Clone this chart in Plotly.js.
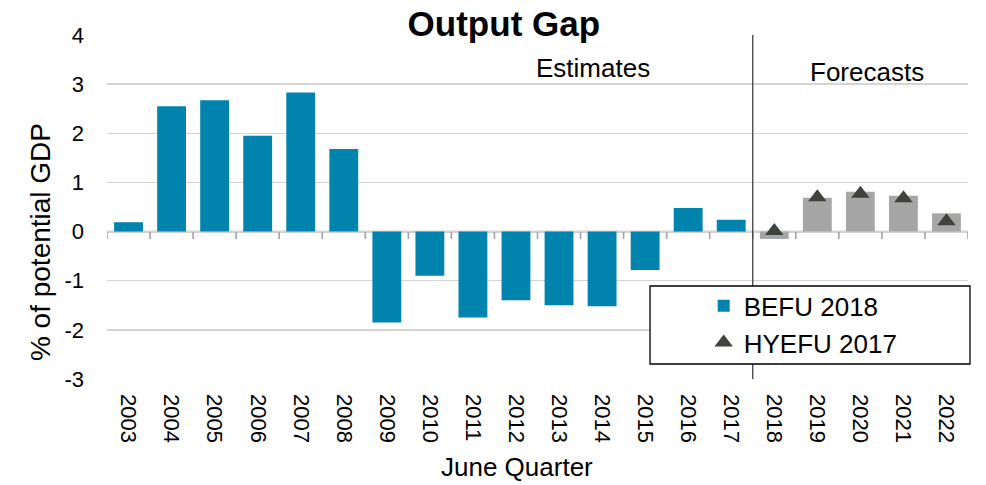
<!DOCTYPE html>
<html>
<head>
<meta charset="utf-8">
<script src="https://cdn.plot.ly/plotly-3.0.1.min.js"></script>
<style>html,body{margin:0;padding:0;background:#fff;}#chart{width:986px;height:485px;}</style>
</head>
<body>
<div id="chart"></div>
<script>
const years = ['2003','2004','2005','2006','2007','2008','2009','2010','2011','2012','2013','2014','2015','2016','2017','2018','2019','2020','2021','2022'];
const befu2018 = [0.19, 2.55, 2.67, 1.95, 2.83, 1.68, -1.85, -0.90, -1.75, -1.40, -1.50, -1.52, -0.78, 0.48, 0.24, -0.15, 0.69, 0.81, 0.73, 0.37];
const hyefuYears = ['2018','2019','2020','2021','2022'];
const hyefu2017 = [0.01, 0.70, 0.77, 0.68, 0.21];
const firstForecastYear = '2018';
const yTickVals = [-3, -2, -1, 0, 1, 2, 3, 4];
const yTickText = ['-3', '-2', '-1', '0', '1', '2', '3', '4'];

const blue = '#0083AD', grey = '#A6A6A6', axisGrey = '#A3A3A3';
const barColors = years.map(y => (+y >= +firstForecastYear ? grey : blue));
const F = 'Liberation Sans, Arial, sans-serif';

const traces = [
  {type:'bar', name:'BEFU 2018', x:years, y:befu2018, marker:{color:barColors, line:{width:0}},
   legendgroup:'a'},
  {type:'scatter', mode:'markers', name:'HYEFU 2017', x:hyefuYears, y:hyefu2017,
   marker:{symbol:'triangle-up', size:16, color:'#3F423D'}, legendgroup:'b'}
];

// category-boundary tick marks hanging below the zero line (one per category boundary)
const boundaryTicks = years.concat(['end']).map((_, i) => ({
  type:'line', xref:'x', yref:'y', x0:i - 0.5, x1:i - 0.5, y0:0, y1:-0.15,
  line:{color:axisGrey, width:1.6}, layer:'below'
}));

const layout = {
  width:986, height:485,
  margin:{l:107, r:18, t:35, b:106},
  paper_bgcolor:'#fff', plot_bgcolor:'#fff',
  font:{family:F, color:'#000', size:22},
  bargap:0.33,
  showlegend:true,
  title:{text:'<b>Output Gap</b>', font:{family:F, size:35, color:'#000'},
         xref:'container', x:0.511, xanchor:'center', yref:'container', y:0.952, yanchor:'middle'},
  xaxis:{type:'category', categoryarray:years, range:[-0.5,19.5], tickangle:90,
         showgrid:false, zeroline:false, showline:false, ticks:'',
         tickfont:{family:F, size:22, color:'#000'}, ticklabelstandoff:14},
  yaxis:{range:[-3,4], tickvals:yTickVals, ticktext:yTickText, showgrid:true, gridcolor:'#D4D4D4', gridwidth:1.5,
         zeroline:false, showline:false, ticks:'',
         tickfont:{family:F, size:22, color:'#000'}, ticklabelstandoff:22},
  legend:{x:0.693, xanchor:'left', y:0.281, yanchor:'top', bgcolor:'rgba(0,0,0,0)', borderwidth:0,
          font:{family:F, size:26, color:'#000'}, traceorder:'grouped', tracegroupgap:0},
  shapes:[
    {type:'rect', xref:'paper', yref:'paper', x0:0.338, x1:0.584, y0:0.98, y1:1.03, fillcolor:'#fff', line:{width:0}, layer:'above'},
    {type:'line', xref:'paper', yref:'y', x0:0, x1:1, y0:0, y1:0, line:{color:axisGrey, width:1.8}, layer:'below'}
  ].concat(boundaryTicks).concat([
    {type:'line', xref:'x', yref:'paper', x0:14.5, x1:14.5, y0:0, y1:1, line:{color:'#404040', width:1.3}, layer:'above'},
    {type:'rect', xref:'paper', yref:'paper', x0:0.6307, x1:1.0023, y0:0.0436, y1:0.2703, fillcolor:'#fff', line:{color:'#000', width:1.3}, layer:'above'}
  ]),
  annotations:[
    {text:'Estimates', xref:'paper', yref:'paper', x:0.5645, y:0.904, xanchor:'center', yanchor:'middle', showarrow:false, font:{family:F, size:26}},
    {text:'Forecasts', xref:'paper', yref:'paper', x:0.8827, y:0.893, xanchor:'center', yanchor:'middle', showarrow:false, font:{family:F, size:26}},
    {text:'June Quarter', xref:'paper', yref:'paper', x:0.476, y:-0.256, xanchor:'center', yanchor:'middle', showarrow:false, font:{family:F, size:26}},
    {text:'% of potential GDP', xref:'paper', yref:'paper', x:-0.0778, y:0.398, xanchor:'center', yanchor:'middle', textangle:-90, showarrow:false, font:{family:F, size:28}}
  ]
};

Plotly.newPlot('chart', traces, layout, {displayModeBar:false, staticPlot:true});
</script>
</body>
</html>
